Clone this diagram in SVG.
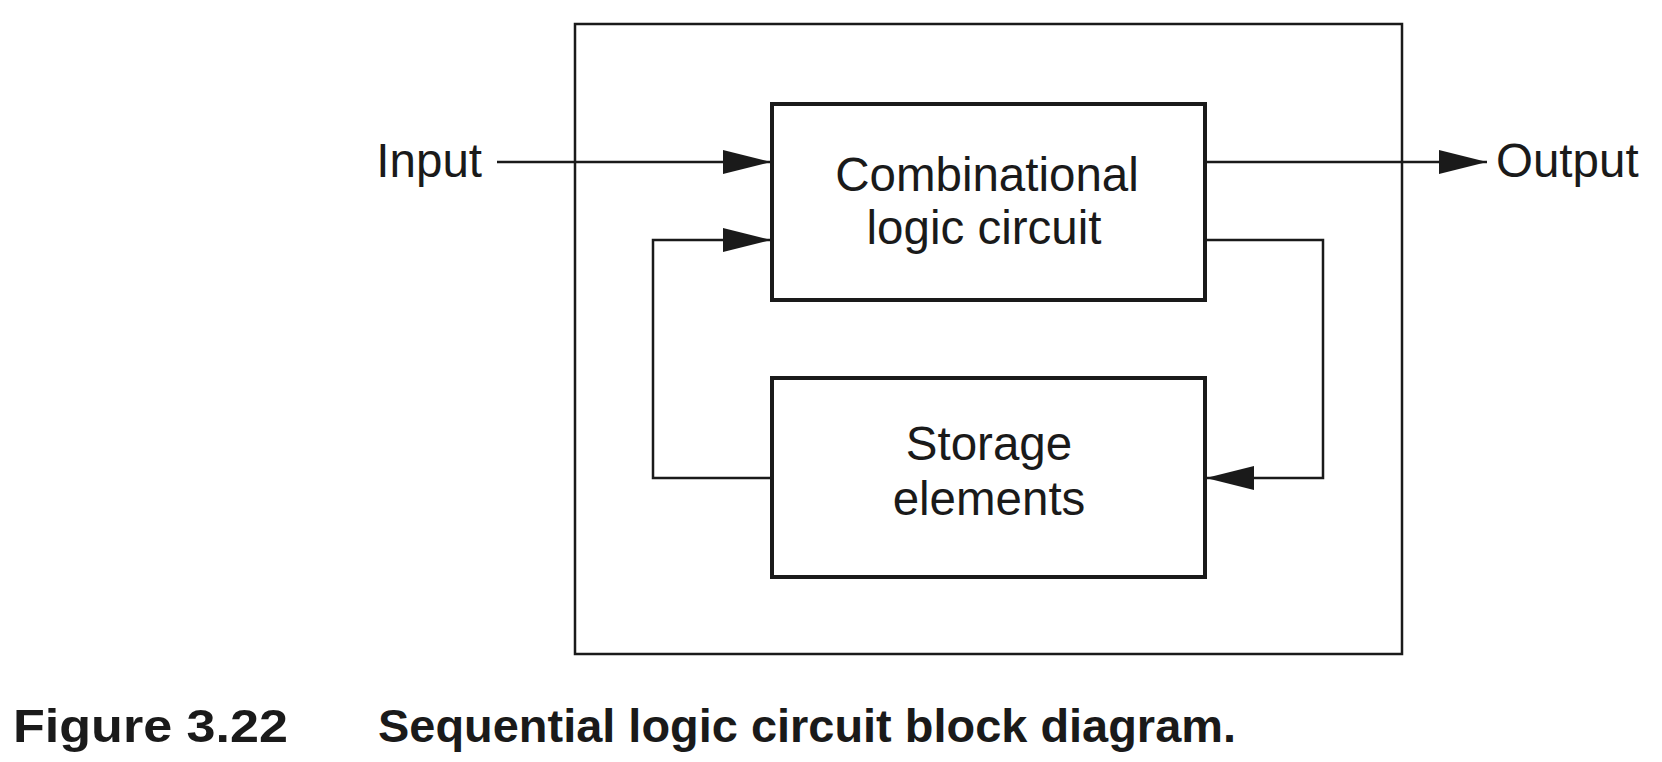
<svg xmlns="http://www.w3.org/2000/svg" width="1662" height="762" viewBox="0 0 1662 762">
<style>
.frame{fill:none;stroke:#1a1a1a;stroke-width:2.5}
.box{fill:none;stroke:#1a1a1a;stroke-width:4}
.wire{fill:none;stroke:#1a1a1a;stroke-width:2.5}
.lbl{font-family:"Liberation Sans",Arial,sans-serif;font-size:47.5px;fill:#1a1a1a}
.cap{font-family:"Liberation Sans",Arial,sans-serif;font-size:47px;font-weight:bold;fill:#1a1a1a}
</style>
<defs>
<marker id="arr" markerUnits="userSpaceOnUse" markerWidth="48" markerHeight="26" refX="48" refY="13" orient="auto">
<path d="M0,1 L48,13 L0,25 z" fill="#1a1a1a"/>
</marker>
</defs>
<rect width="1662" height="762" fill="#ffffff"/>
<g id="system">
<rect class="frame" x="575" y="24" width="827" height="630"/>
</g>
<g id="combinational">
<rect class="box" x="772" y="104" width="433" height="196"/>
<text class="lbl" x="987" y="191" text-anchor="middle">Combinational</text>
<text class="lbl" x="984" y="244" text-anchor="middle">logic circuit</text>
</g>
<g id="storage">
<rect class="box" x="772" y="378" width="433" height="199"/>
<text class="lbl" x="989" y="460" text-anchor="middle">Storage</text>
<text class="lbl" x="989" y="515" text-anchor="middle">elements</text>
</g>
<g id="input">
<text class="lbl" x="482" y="177" text-anchor="end">Input</text>
</g>
<g id="output">
<text class="lbl" x="1496" y="177">Output</text>
</g>
<g id="connectors">
<line class="wire" x1="497" y1="162" x2="771" y2="162" marker-end="url(#arr)"/>
<line class="wire" x1="1205" y1="162" x2="1487" y2="162" marker-end="url(#arr)"/>
<path class="wire" d="M1205,240 H1323 V478 H1206" marker-end="url(#arr)"/>
<path class="wire" d="M772,478 H653 V240 H771" marker-end="url(#arr)"/>
</g>
<g id="caption">
<text class="cap" x="13" y="742" textLength="275" lengthAdjust="spacingAndGlyphs">Figure 3.22</text>
<text class="cap" x="378" y="742" textLength="858" lengthAdjust="spacingAndGlyphs">Sequential logic circuit block diagram.</text>
</g>
</svg>
